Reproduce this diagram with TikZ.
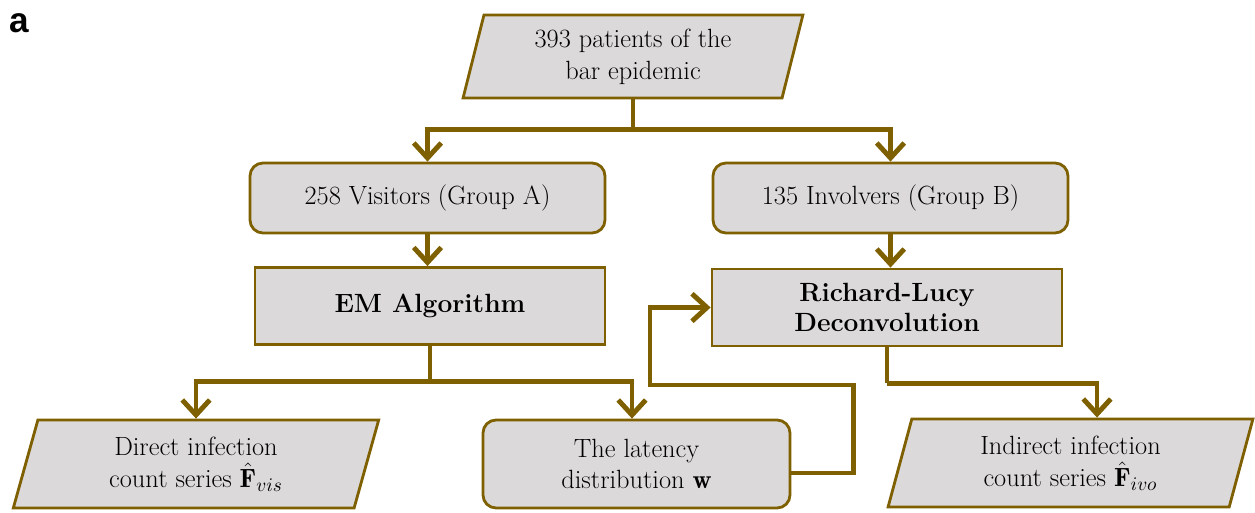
\documentclass[tikz,border=0pt]{standalone}
\usepackage{fontspec}
\newfontfamily\panelfont{Liberation Sans}
\usepackage{tikz}
\usetikzlibrary{arrows.meta,positioning,shapes.geometric,calc}
\definecolor{umber}{HTML}{7F6000}
\definecolor{stone}{HTML}{DBD9DA}

\begin{document}
\begin{tikzpicture}[
  box/.style={draw=umber, fill=stone, line width=1.6pt, align=center, inner sep=0pt, font=\fontsize{15}{18}\selectfont},
  group/.style={box, rounded corners=0.26cm, minimum width=7.1cm, minimum height=1.4cm},
  algo/.style={box, minimum width=7.0cm, minimum height=1.54cm, font=\fontsize{15}{17}\selectfont\bfseries},
  data/.style={box, trapezium, trapezium left angle=76, trapezium right angle=104, trapezium stretches=true},
  flow/.style={draw=umber, line width=2.8pt},
  arrowflow/.style={flow, -{Straight Barb[length=0.3cm,width=0.55cm]}}
]
  \useasboundingbox (0,0) rectangle (25.1,-10.24);
  \node[anchor=base west, inner sep=0pt, font=\panelfont\bfseries\fontsize{20}{24}\selectfont] (panel) at (0.18,-0.65) {a};
  \node[data, minimum width=6.8cm, minimum height=1.66cm] (patients) at (12.66,-1.13) {393 patients of the\\bar epidemic};
  \node[group] (groupA) at (8.55,-3.96) {258 Visitors (Group A)};
  \node[group] (groupB) at (17.81,-3.96) {135 Involvers (Group B)};
  \node[algo] (em) at (8.6,-6.12) {EM Algorithm};
  \node[algo] (rl) at (17.74,-6.15) {Richard-Lucy\\Deconvolution};
  \node[data, minimum width=7.32cm, minimum height=1.76cm] (direct) at (3.92,-9.28) {Direct infection\\count series $\hat{\mathbf{F}}_{vis}$};
  \node[group, minimum width=6.14cm, minimum height=1.76cm] (latency) at (12.73,-9.28) {The latency\\distribution $\mathbf{w}$};
  \node[data, minimum width=7.3cm, minimum height=1.76cm] (indirect) at (21.41,-9.26) {Indirect infection\\count series $\hat{\mathbf{F}}_{ivo}$};
  \draw[flow] (patients.south) -- ++(0,-0.6) coordinate (split);
  \draw[arrowflow] (split) -| (groupA.north);
  \draw[arrowflow] (split) -| (groupB.north);
  \draw[arrowflow] (groupA.south) -- (groupA.south |- em.north);
  \draw[arrowflow] (groupB.south) -- (groupB.south |- rl.north);
  \draw[flow] (em.south) -- ++(0,-0.72) coordinate (emsplit);
  \draw[arrowflow] (emsplit) -| (direct.north);
  \draw[arrowflow] (emsplit) -| ([xshift=-0.09cm]latency.north);
  \draw[arrowflow] ([yshift=-0.18cm]latency.east) -- ++(1.24,0) |- (13.0,-7.7) |- (rl.west);
  \draw[flow] (rl.south) -- ++(0,-0.72) coordinate (rlsplit);
  \draw[arrowflow] (rlsplit) -| ([xshift=0.53cm]indirect.north);
\end{tikzpicture}
\end{document}
